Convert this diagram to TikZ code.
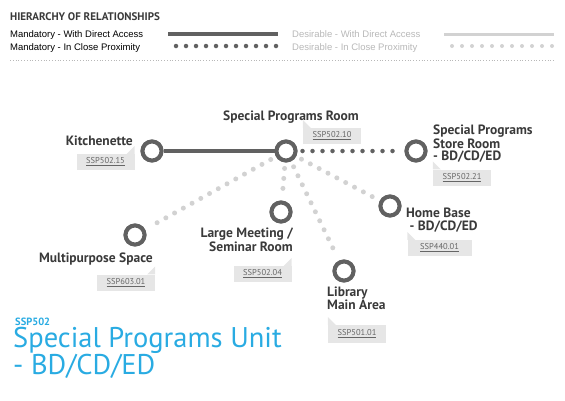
\documentclass[tikz,border=0pt]{standalone}
\usepackage{fontspec}
\setmainfont{PT Sans}
\newfontfamily\legendfont{Liberation Sans}
\usetikzlibrary{positioning}
\definecolor{dark}{HTML}{616161}
\definecolor{light}{HTML}{D2D2D2}
\definecolor{labeltext}{HTML}{3A3A3A}
\definecolor{tagbg}{HTML}{E6E6E6}
\definecolor{tagtext}{HTML}{666666}
\definecolor{soft}{HTML}{B8B8B8}
\definecolor{unitblue}{HTML}{29ABE2}

\begin{document}
\begin{tikzpicture}[x=1pt, y=-1pt,
  room/.style={circle, draw=dark, line width=4pt, fill=white,
               minimum size=19pt, inner sep=0pt},
  lbl/.style={font=\bfseries\fontsize{13.5}{12.5}\selectfont, text=labeltext,
              inner sep=0pt, align=left},
  tag/.style={fill=tagbg, minimum width=58pt, minimum height=16pt,
              inner sep=0pt, font=\fontsize{8.5}{8.5}\selectfont, text=tagtext},
  legend/.style={font=\legendfont\fontsize{9.5}{9.5}\selectfont, inner sep=0pt},
  mandline/.style={draw=dark, line width=3.5pt},
  mandprox/.style={draw=dark, line width=4.5pt, line cap=round,
                   dash pattern=on 0pt off 10pt},
  desline/.style={mandline, draw=light},
  desprox/.style={mandprox, draw=light, line width=5pt},
]
\useasboundingbox (0,0) rectangle (565,400);

%% Legend
\node[anchor=base west, font=\bfseries\fontsize{11}{11}\selectfont,
      text=labeltext, inner sep=0pt] (hdr) at (10,20) {HIERARCHY OF RELATIONSHIPS};
\node[legend, anchor=base west] (mdir)  at (10,37) {Mandatory - With Direct Access};
\node[legend, anchor=base west] (mprox) at (10,50) {Mandatory - In Close Proximity};
\node[legend, anchor=base west, text=soft] (ddir)  at (292,37) {Desirable - With Direct Access};
\node[legend, anchor=base west, text=soft] (dprox) at (292,50) {Desirable - In Close Proximity};
\coordinate (m1) at (168,34);  \coordinate (m2) at (278,34);
\coordinate (m3) at (176,46);  \coordinate (m4) at (279,46);
\coordinate (d1) at (444,34);  \coordinate (d2) at (554,34);
\coordinate (d3) at (452,46);  \coordinate (d4) at (555,46);
\draw[mandline] (m1) -- (m2);
\draw[mandprox] (m3) -- (m4);
\draw[desline, line width=3pt] (d1) -- (d2);
\draw[desprox, line width=4pt] (d3) -- (d4);
\coordinate (s1) at (10,60);  \coordinate (s2) at (555,60);
\draw[soft, line width=0.8pt, dash pattern=on 0.8pt off 2pt] (s1) -- (s2);

%% Rooms
\node[room] (spr)   at (286,151) {};
\node[room] (kit)   at (152,151) {};
\node[room] (store) at (416,151) {};
\node[room] (multi) at (135,235) {};
\node[room] (meet)  at (281,212) {};
\node[room] (home)  at (390,206) {};
\node[room] (lib)   at (344,271) {};

%% Relationships
\draw[mandline] (kit) -- (spr);
\draw[mandprox, shorten <=5pt, shorten >=7pt] (spr) -- (store);
\draw[desprox, shorten <=6pt, shorten >=7pt] (spr) -- (multi);
\draw[desprox, shorten <=6pt, shorten >=7pt] (spr) -- (meet);
\draw[desprox, shorten <=6pt, shorten >=7pt] (spr) -- (lib);
\draw[desprox, shorten <=6pt, shorten >=7pt] (spr) -- (home);
\foreach \r in {spr, kit, store, multi, meet, home, lib}
  \node[room] at (\r) {};

%% Labels
\node[lbl, anchor=base] (lspr) at (291,120) {Special Programs Room};
\node[lbl, anchor=base east] (lkit) at (133,145) {Kitchenette};
\node[lbl, anchor=north west] (lstore) at (433,125) {Special Programs\\Store Room\\- BD/CD/ED};
\node[lbl, anchor=base east] (lmulti) at (153,262) {Multipurpose Space};
\node[lbl, anchor=north east, align=right] (lmeet) at (293,228) {Large Meeting /\\Seminar Room};
\node[lbl, anchor=north west] (lhome) at (406,208) {Home Base\\\ - BD/CD/ED};
\node[lbl, anchor=north west] (llib) at (327,287) {Library\\Main Area};

%% Tags
\node[tag] (t15)  at (105.5,162) {\underline{SSP502.15}};
\node[tag] (t10)  at (332,136)   {\underline{SSP502.10}};
\node[tag] (t21)  at (462,177.5) {\underline{SSP502.21}};
\node[tag] (t603) at (126,282.5) {\underline{SSP603.01}};
\node[tag] (t04)  at (262.5,274) {\underline{SSP502.04}};
\node[tag, minimum width=64pt] (t440) at (439.5,248) {\underline{SSP440.01}};
\node[tag, minimum height=18pt] (t501) at (357,334) {\underline{SSP501.01}};
\foreach \t/\s/\d in {t15/east/-1, t10/west/1, t21/west/1, t603/east/-1,
                      t04/east/-1, t440/west/1, t501/west/1}
  \fill[tagbg] (\t.north \s) -- ++(0,-8) -- ++(8*\d,8) -- cycle;

%% Unit title
\node[anchor=base west, inner sep=0pt, text=unitblue,
      font=\bfseries\fontsize{10.5}{10.5}\selectfont] (code) at (15,325) {SSP502};
\node[anchor=north west, inner sep=0pt, text=unitblue, align=left,
      font=\fontsize{28.5}{25}\selectfont] (unit) at (13,327) {Special Programs Unit\\- BD/CD/ED};
\end{tikzpicture}
\end{document}
